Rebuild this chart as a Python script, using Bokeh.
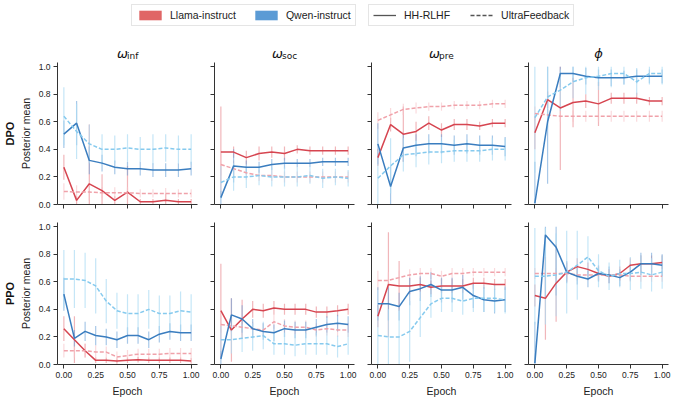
from bokeh.embed import file_html
from bokeh.layouts import column, row
from bokeh.models import FixedTicker, Label, Legend, LegendItem, NumeralTickFormatter, Title
from bokeh.plotting import figure
from bokeh.resources import INLINE

# x positions (epochs) of the recorded checkpoints
epoch_dpo = [0.0, 0.1, 0.2, 0.3, 0.4, 0.5, 0.6, 0.7, 0.8, 0.9, 1.0]
epoch_ppo = [0.0, 0.083, 0.167, 0.25, 0.333, 0.417, 0.5, 0.583, 0.667, 0.75, 0.833, 0.917, 1.0]

methods = ["DPO", "PPO"]
params = ["inf", "soc", "pre", "phi"]
models = ["Llama-instruct", "Qwen-instruct"]
datasets = ["HH-RLHF", "UltraFeedback"]

# ---- DPO ----
dpo_inf_llama_hh = [0.27, 0.03, 0.15, 0.10, 0.03, 0.09, 0.02, 0.02, 0.03, 0.02, 0.02]
dpo_inf_llama_hh_err = [0.09, 0.03, 0.43, 0.12, 0.03, 0.19, 0.02, 0.02, 0.05, 0.02, 0.02]
dpo_inf_llama_uf = [0.095, 0.09, 0.09, 0.085, 0.085, 0.085, 0.08, 0.08, 0.08, 0.08, 0.08]
dpo_inf_llama_uf_err = [0.06, 0.05, 0.06, 0.04, 0.04, 0.04, 0.03, 0.03, 0.04, 0.03, 0.03]
dpo_inf_qwen_hh = [0.51, 0.59, 0.32, 0.30, 0.27, 0.26, 0.26, 0.25, 0.25, 0.25, 0.26]
dpo_inf_qwen_hh_err = [0.10, 0.16, 0.10, 0.06, 0.05, 0.05, 0.05, 0.05, 0.05, 0.05, 0.05]
dpo_inf_qwen_uf = [0.64, 0.53, 0.44, 0.40, 0.40, 0.41, 0.40, 0.40, 0.41, 0.40, 0.40]
dpo_inf_qwen_uf_err = [0.21, 0.20, 0.14, 0.11, 0.10, 0.10, 0.09, 0.11, 0.10, 0.10, 0.11]

dpo_soc_llama_hh = [0.38, 0.38, 0.34, 0.37, 0.38, 0.37, 0.40, 0.39, 0.39, 0.39, 0.39]
dpo_soc_llama_hh_err = [0.33, 0.04, 0.05, 0.05, 0.04, 0.05, 0.03, 0.03, 0.03, 0.03, 0.03]
dpo_soc_llama_uf = [0.29, 0.26, 0.23, 0.21, 0.21, 0.20, 0.20, 0.20, 0.20, 0.20, 0.20]
dpo_soc_llama_uf_err = [0.08, 0.06, 0.05, 0.04, 0.04, 0.04, 0.04, 0.04, 0.04, 0.04, 0.04]
dpo_soc_qwen_hh = [0.05, 0.28, 0.27, 0.27, 0.29, 0.30, 0.30, 0.30, 0.31, 0.31, 0.31]
dpo_soc_qwen_hh_err = [0.05, 0.12, 0.05, 0.04, 0.04, 0.04, 0.03, 0.03, 0.03, 0.03, 0.03]
dpo_soc_qwen_uf = [0.16, 0.20, 0.20, 0.21, 0.20, 0.20, 0.20, 0.21, 0.19, 0.20, 0.19]
dpo_soc_qwen_uf_err = [0.12, 0.10, 0.08, 0.07, 0.07, 0.07, 0.07, 0.06, 0.07, 0.06, 0.06]

dpo_pre_llama_hh = [0.34, 0.58, 0.51, 0.53, 0.59, 0.54, 0.58, 0.58, 0.57, 0.59, 0.59]
dpo_pre_llama_hh_err = [0.06, 0.05, 0.20, 0.07, 0.05, 0.05, 0.04, 0.04, 0.03, 0.03, 0.03]
dpo_pre_llama_uf = [0.61, 0.65, 0.69, 0.70, 0.71, 0.71, 0.72, 0.72, 0.72, 0.73, 0.73]
dpo_pre_llama_uf_err = [0.06, 0.05, 0.04, 0.04, 0.03, 0.03, 0.03, 0.03, 0.03, 0.03, 0.03]
dpo_pre_qwen_hh = [0.44, 0.13, 0.41, 0.43, 0.44, 0.44, 0.43, 0.44, 0.43, 0.43, 0.42]
dpo_pre_qwen_hh_err = [0.15, 0.15, 0.10, 0.08, 0.07, 0.07, 0.07, 0.07, 0.07, 0.07, 0.07]
dpo_pre_qwen_uf = [0.19, 0.28, 0.36, 0.37, 0.38, 0.38, 0.39, 0.39, 0.39, 0.40, 0.40]
dpo_pre_qwen_uf_err = [0.20, 0.20, 0.12, 0.10, 0.09, 0.08, 0.08, 0.08, 0.08, 0.08, 0.08]

dpo_phi_llama_hh = [0.52, 0.76, 0.70, 0.74, 0.75, 0.73, 0.77, 0.77, 0.77, 0.75, 0.75]
dpo_phi_llama_hh_err = [0.12, 0.06, 0.45, 0.18, 0.05, 0.16, 0.04, 0.04, 0.04, 0.03, 0.03]
dpo_phi_llama_uf = [0.66, 0.65, 0.64, 0.64, 0.64, 0.64, 0.64, 0.64, 0.64, 0.64, 0.64]
dpo_phi_llama_uf_err = [0.05, 0.04, 0.04, 0.04, 0.04, 0.04, 0.04, 0.04, 0.04, 0.04, 0.04]
dpo_phi_qwen_hh = [0.01, 0.60, 0.95, 0.95, 0.93, 0.92, 0.92, 0.92, 0.93, 0.93, 0.93]
dpo_phi_qwen_hh_err = [0.30, 0.45, 0.10, 0.06, 0.06, 0.06, 0.06, 0.05, 0.05, 0.05, 0.05]
dpo_phi_qwen_uf = [0.63, 0.78, 0.83, 0.89, 0.92, 0.93, 0.95, 0.95, 0.89, 0.95, 0.95]
dpo_phi_qwen_uf_err = [0.40, 0.22, 0.15, 0.12, 0.12, 0.10, 0.10, 0.08, 0.10, 0.08, 0.08]

# ---- PPO ----
ppo_inf_llama_hh = [0.26, 0.18, 0.10, 0.03, 0.03, 0.025, 0.03, 0.035, 0.03, 0.03, 0.03, 0.03, 0.025]
ppo_inf_llama_hh_err = [0.09, 0.17, 0.05, 0.02, 0.02, 0.02, 0.02, 0.02, 0.02, 0.02, 0.02, 0.02, 0.02]
ppo_inf_llama_uf = [0.10, 0.10, 0.10, 0.09, 0.09, 0.055, 0.065, 0.075, 0.075, 0.075, 0.08, 0.08, 0.08]
ppo_inf_llama_uf_err = [0.05, 0.05, 0.05, 0.05, 0.04, 0.04, 0.04, 0.04, 0.04, 0.04, 0.04, 0.04, 0.04]
ppo_inf_qwen_hh = [0.51, 0.19, 0.24, 0.21, 0.20, 0.18, 0.21, 0.21, 0.18, 0.22, 0.24, 0.23, 0.23]
ppo_inf_qwen_hh_err = [0.12, 0.06, 0.07, 0.07, 0.06, 0.06, 0.06, 0.06, 0.06, 0.06, 0.06, 0.06, 0.06]
ppo_inf_qwen_uf = [0.62, 0.62, 0.61, 0.57, 0.46, 0.39, 0.37, 0.37, 0.40, 0.37, 0.37, 0.39, 0.38]
ppo_inf_qwen_uf_err = [0.21, 0.21, 0.20, 0.20, 0.16, 0.13, 0.14, 0.14, 0.14, 0.13, 0.13, 0.14, 0.13]

ppo_soc_llama_hh = [0.39, 0.25, 0.33, 0.40, 0.39, 0.41, 0.40, 0.40, 0.40, 0.38, 0.38, 0.39, 0.40]
ppo_soc_llama_hh_err = [0.34, 0.23, 0.14, 0.06, 0.05, 0.05, 0.04, 0.04, 0.04, 0.04, 0.04, 0.04, 0.04]
ppo_soc_llama_uf = [0.29, 0.28, 0.27, 0.26, 0.25, 0.31, 0.28, 0.27, 0.27, 0.25, 0.26, 0.25, 0.25]
ppo_soc_llama_uf_err = [0.06, 0.06, 0.06, 0.05, 0.05, 0.05, 0.05, 0.05, 0.05, 0.05, 0.05, 0.05, 0.05]
ppo_soc_qwen_hh = [0.04, 0.36, 0.33, 0.26, 0.24, 0.23, 0.26, 0.25, 0.25, 0.27, 0.29, 0.30, 0.29]
ppo_soc_qwen_hh_err = [0.06, 0.12, 0.10, 0.07, 0.06, 0.06, 0.06, 0.06, 0.06, 0.06, 0.06, 0.06, 0.06]
ppo_soc_qwen_uf = [0.18, 0.18, 0.19, 0.20, 0.21, 0.15, 0.15, 0.14, 0.15, 0.15, 0.15, 0.13, 0.15]
ppo_soc_qwen_uf_err = [0.10, 0.10, 0.10, 0.10, 0.10, 0.08, 0.08, 0.08, 0.08, 0.08, 0.08, 0.08, 0.08]

ppo_pre_llama_hh = [0.35, 0.58, 0.57, 0.57, 0.58, 0.56, 0.57, 0.57, 0.57, 0.59, 0.59, 0.58, 0.58]
ppo_pre_llama_hh_err = [0.08, 0.38, 0.18, 0.06, 0.05, 0.05, 0.05, 0.05, 0.05, 0.04, 0.04, 0.04, 0.04]
ppo_pre_llama_uf = [0.61, 0.61, 0.63, 0.65, 0.66, 0.66, 0.64, 0.66, 0.66, 0.67, 0.67, 0.67, 0.67]
ppo_pre_llama_uf_err = [0.07, 0.06, 0.05, 0.04, 0.04, 0.04, 0.04, 0.04, 0.04, 0.03, 0.03, 0.03, 0.03]
ppo_pre_qwen_hh = [0.44, 0.44, 0.42, 0.53, 0.55, 0.58, 0.54, 0.54, 0.56, 0.50, 0.47, 0.46, 0.47]
ppo_pre_qwen_hh_err = [0.12, 0.12, 0.10, 0.10, 0.09, 0.09, 0.09, 0.09, 0.09, 0.09, 0.09, 0.09, 0.09]
ppo_pre_qwen_uf = [0.21, 0.20, 0.20, 0.24, 0.34, 0.44, 0.48, 0.48, 0.46, 0.48, 0.48, 0.48, 0.47]
ppo_pre_qwen_uf_err = [0.21, 0.20, 0.20, 0.22, 0.14, 0.10, 0.10, 0.10, 0.10, 0.10, 0.10, 0.10, 0.10]

ppo_phi_llama_hh = [0.50, 0.48, 0.59, 0.67, 0.71, 0.69, 0.66, 0.64, 0.66, 0.72, 0.73, 0.73, 0.74]
ppo_phi_llama_hh_err = [0.08, 0.30, 0.28, 0.07, 0.06, 0.05, 0.05, 0.05, 0.05, 0.05, 0.06, 0.06, 0.05]
ppo_phi_llama_uf = [0.66, 0.66, 0.66, 0.66, 0.65, 0.65, 0.65, 0.65, 0.65, 0.64, 0.64, 0.64, 0.64]
ppo_phi_llama_uf_err = [0.04, 0.04, 0.04, 0.04, 0.04, 0.04, 0.04, 0.04, 0.04, 0.04, 0.04, 0.04, 0.04]
ppo_phi_qwen_hh = [0.01, 0.94, 0.85, 0.67, 0.64, 0.62, 0.66, 0.65, 0.63, 0.67, 0.73, 0.73, 0.72]
ppo_phi_qwen_hh_err = [0.30, 0.45, 0.35, 0.08, 0.06, 0.06, 0.06, 0.06, 0.06, 0.06, 0.08, 0.08, 0.08]
ppo_phi_qwen_uf = [0.64, 0.64, 0.65, 0.67, 0.72, 0.78, 0.68, 0.64, 0.66, 0.66, 0.67, 0.65, 0.67]
ppo_phi_qwen_uf_err = [0.35, 0.35, 0.30, 0.30, 0.25, 0.15, 0.12, 0.10, 0.10, 0.12, 0.12, 0.12, 0.12]

# order of the four series in every panel: Llama/HH, Llama/UF, Qwen/HH, Qwen/UF
panels = {
    ("DPO", "inf"): [(dpo_inf_llama_hh, dpo_inf_llama_hh_err), (dpo_inf_llama_uf, dpo_inf_llama_uf_err),
                     (dpo_inf_qwen_hh, dpo_inf_qwen_hh_err), (dpo_inf_qwen_uf, dpo_inf_qwen_uf_err)],
    ("DPO", "soc"): [(dpo_soc_llama_hh, dpo_soc_llama_hh_err), (dpo_soc_llama_uf, dpo_soc_llama_uf_err),
                     (dpo_soc_qwen_hh, dpo_soc_qwen_hh_err), (dpo_soc_qwen_uf, dpo_soc_qwen_uf_err)],
    ("DPO", "pre"): [(dpo_pre_llama_hh, dpo_pre_llama_hh_err), (dpo_pre_llama_uf, dpo_pre_llama_uf_err),
                     (dpo_pre_qwen_hh, dpo_pre_qwen_hh_err), (dpo_pre_qwen_uf, dpo_pre_qwen_uf_err)],
    ("DPO", "phi"): [(dpo_phi_llama_hh, dpo_phi_llama_hh_err), (dpo_phi_llama_uf, dpo_phi_llama_uf_err),
                     (dpo_phi_qwen_hh, dpo_phi_qwen_hh_err), (dpo_phi_qwen_uf, dpo_phi_qwen_uf_err)],
    ("PPO", "inf"): [(ppo_inf_llama_hh, ppo_inf_llama_hh_err), (ppo_inf_llama_uf, ppo_inf_llama_uf_err),
                     (ppo_inf_qwen_hh, ppo_inf_qwen_hh_err), (ppo_inf_qwen_uf, ppo_inf_qwen_uf_err)],
    ("PPO", "soc"): [(ppo_soc_llama_hh, ppo_soc_llama_hh_err), (ppo_soc_llama_uf, ppo_soc_llama_uf_err),
                     (ppo_soc_qwen_hh, ppo_soc_qwen_hh_err), (ppo_soc_qwen_uf, ppo_soc_qwen_uf_err)],
    ("PPO", "pre"): [(ppo_pre_llama_hh, ppo_pre_llama_hh_err), (ppo_pre_llama_uf, ppo_pre_llama_uf_err),
                     (ppo_pre_qwen_hh, ppo_pre_qwen_hh_err), (ppo_pre_qwen_uf, ppo_pre_qwen_uf_err)],
    ("PPO", "phi"): [(ppo_phi_llama_hh, ppo_phi_llama_hh_err), (ppo_phi_llama_uf, ppo_phi_llama_uf_err),
                     (ppo_phi_qwen_hh, ppo_phi_qwen_hh_err), (ppo_phi_qwen_uf, ppo_phi_qwen_uf_err)],
}

LLAMA_PATCH = "#e06666"
QWEN_PATCH = "#5b9bd5"
STYLES = [
    dict(color="#d64550", dash="solid", err="#e8868c", err_alpha=0.6),
    dict(color="#f0a2aa", dash="4 2", err="#f6c2c6", err_alpha=0.6),
    dict(color="#3a7dbf", dash="solid", err="#6ea4d8", err_alpha=0.6),
    dict(color="#86caee", dash="4 2", err="#addcf4", err_alpha=0.7),
]
FONT = "Liberation Sans"
FW, FH = 140, 142
COL0_LEFT, COL_STEP = 57, 157   # frame left of first column and column pitch (px)
TOP_H = 61                      # height of the legend/title strip


def hide_labels(ax):
    # keep the ticks, draw no tick labels
    ax.major_label_text_font_size = "1px"
    ax.major_label_text_color = None
    ax.major_label_standoff = 0


def make_panel(method, param, col):
    top = method == "DPO"
    x = epoch_dpo if top else epoch_ppo
    p = figure(frame_width=FW, frame_height=FH, x_range=(-0.05, 1.05), y_range=(0, 1.03),
               output_backend="svg", toolbar_location=None,
               min_border_left=5 if col == 0 else 12, min_border_right=5,
               min_border_top=1 if top else 9, min_border_bottom=9 if top else 5)
    p.outline_line_color = None
    p.grid.visible = False

    for ax in (p.xaxis, p.yaxis):
        ax.axis_line_color = "#333333"
        ax.major_tick_line_color = "#333333"
        ax.major_tick_out = 4
        ax.major_tick_in = 0
        ax.minor_tick_line_color = None
        ax.major_label_text_font = FONT
        ax.major_label_text_font_size = "8.5px"
        ax.major_label_text_color = "#222222"
        ax.major_label_standoff = 3
        ax.axis_label_text_font = FONT
        ax.axis_label_text_font_size = "10.5px"
        ax.axis_label_text_font_style = "normal"
        ax.axis_label_text_color = "#222222"
        ax.axis_label_standoff = 4
    p.xaxis.ticker = FixedTicker(ticks=[0, 0.25, 0.5, 0.75, 1.0])
    p.xaxis.formatter = NumeralTickFormatter(format="0.00")
    p.yaxis.ticker = FixedTicker(ticks=[0, 0.2, 0.4, 0.6, 0.8, 1.0])
    p.yaxis.formatter = NumeralTickFormatter(format="0.0")

    if top:
        hide_labels(p.xaxis)
    else:
        p.xaxis.axis_label = "Epoch"
    if col > 0:
        hide_labels(p.yaxis)
    else:
        p.yaxis.axis_label = "Posterior mean"
        p.add_layout(Title(text=method, align="center", text_font=FONT, text_font_size="11px",
                           text_font_style="bold", text_color="#111111", standoff=2), "left")

    series = panels[(method, param)]
    for (mean, err), st in zip(series, STYLES):
        lo = [max(0.0, m - e) for m, e in zip(mean, err)]
        hi = [min(1.0, m + e) for m, e in zip(mean, err)]
        p.segment(x0=x, y0=lo, x1=x, y1=hi, line_color=st["err"],
                  line_alpha=st["err_alpha"], line_width=1.2)
    for (mean, err), st in zip(series, STYLES):
        p.line(x, mean, line_color=st["color"], line_width=1.5, line_dash=st["dash"])
    return p


# legend + column titles strip on top
strip_w = COL0_LEFT + 3 * COL_STEP + FW + 5
leg = figure(frame_width=strip_w, frame_height=TOP_H, x_range=(0, 1), y_range=(0, 1),
             x_axis_type=None, y_axis_type=None, output_backend="svg", toolbar_location=None,
             min_border=0, outline_line_color=None)
leg.grid.visible = False
# legend proxies, drawn outside the visible range
r_llama = leg.quad(left=[2], right=[3], top=[3], bottom=[2], fill_color=LLAMA_PATCH, line_color=None)
r_qwen = leg.quad(left=[2], right=[3], top=[3], bottom=[2], fill_color=QWEN_PATCH, line_color=None)
r_hh = leg.line(x=[2, 3], y=[2, 2], line_color="#555555", line_width=1.3)
r_uf = leg.line(x=[2, 3], y=[2, 2], line_color="#555555", line_width=1.3, line_dash="4 2")

legend_models = Legend(items=[LegendItem(label=models[0], renderers=[r_llama]),
                              LegendItem(label=models[1], renderers=[r_qwen])],
                       orientation="horizontal", location=(131, 35), glyph_width=28, glyph_height=12,
                       label_standoff=6, spacing=16, padding=4, margin=0, label_height=12)
legend_data = Legend(items=[LegendItem(label=datasets[0], renderers=[r_hh]),
                            LegendItem(label=datasets[1], renderers=[r_uf])],
                     orientation="horizontal", location=(368, 35), glyph_width=23, glyph_height=12,
                     label_standoff=8, spacing=20, padding=4, margin=0, label_height=12)
for lg in (legend_models, legend_data):
    lg.label_text_font = FONT
    lg.label_text_font_size = "10.5px"
    lg.label_text_color = "#222222"
    lg.border_line_color = "#cccccc"
    lg.border_line_width = 1
    lg.background_fill_alpha = 1.0
    leg.add_layout(lg)

# column titles: omega with a subscript, and phi
for c, prm in enumerate(params):
    cx = COL0_LEFT + c * COL_STEP + FW / 2
    if prm == "phi":
        leg.add_layout(Label(x=cx, y=8, x_units="screen", y_units="screen", text="ϕ",
                             text_align="center", text_baseline="alphabetic", text_font="DejaVu Sans",
                             text_font_style="italic", text_font_size="13px", text_color="#111111"))
    else:
        sub_w = {"inf": 11, "soc": 15, "pre": 15}[prm]
        x0 = cx - (10 + sub_w) / 2
        leg.add_layout(Label(x=x0, y=8, x_units="screen", y_units="screen", text="ω",
                             text_align="left", text_baseline="alphabetic", text_font="DejaVu Sans",
                             text_font_style="italic", text_font_size="13px", text_color="#111111"))
        leg.add_layout(Label(x=x0 + 10, y=5.5, x_units="screen", y_units="screen", text=prm,
                             text_align="left", text_baseline="alphabetic", text_font="DejaVu Sans",
                             text_font_size="9px", text_color="#111111"))

rows = []
for method in methods:
    rows.append(row([make_panel(method, prm, c) for c, prm in enumerate(params)]))

layout = column([leg] + rows)
open("out.html", "w").write(file_html(layout, INLINE))
